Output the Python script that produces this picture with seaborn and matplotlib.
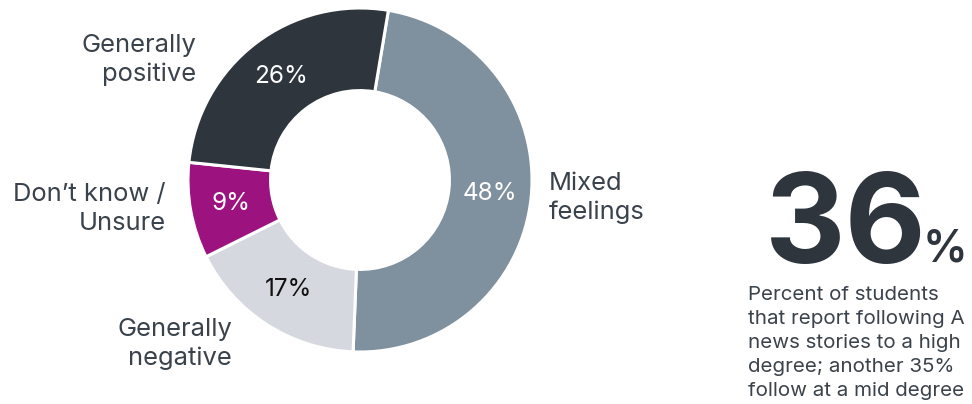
import matplotlib
matplotlib.use("Agg")
import matplotlib.pyplot as plt
import seaborn as sns
import numpy as np

categories = ["Mixed feelings", "Generally negative", "Don\u2019t know / Unsure", "Generally positive"]
values = [48, 17, 9, 26]
pct_labels = ["48%", "17%", "9%", "26%"]
outer_labels = ["Mixed\nfeelings", "Generally\nnegative", "Don\u2019t know /\nUnsure", "Generally\npositive"]
big_number = "36"
big_suffix = "%"
note_lines = ["Percent of students", "that report following A", "news stories to a high",
              "degree; another 35%", "follow at a mid degree"]

sns.set_theme(style="white")
plt.rcParams['font.family'] = ['Inter', 'DejaVu Sans']

colors = ["#7f909e", "#d5d9df", "#9c1380", "#2e353d"]
pct_colors = ["white", "#111111", "white", "white"]
text_color = "#3a424b"

W, H = 972, 404
fig = plt.figure(figsize=(W / 100, H / 100), dpi=100)
fig.patch.set_facecolor("white")

cx, cy, R = 360, 180, 172
ax = fig.add_axes([(cx - R) / W, (H - cy - R) / H, 2 * R / W, 2 * R / H])
wedges, _ = ax.pie(values, colors=colors, startangle=80.5, counterclock=False,
                   radius=1.0, wedgeprops=dict(width=0.48, edgecolor="white", linewidth=2.2))
ax.set_xlim(-1, 1)
ax.set_ylim(-1, 1)
ax.set_aspect("equal")
ax.axis("off")

for w, lab, c in zip(wedges, pct_labels, pct_colors):
    ang = np.deg2rad((w.theta1 + w.theta2) / 2)
    r = 0.76
    ax.text(r * np.cos(ang), r * np.sin(ang), lab, ha="center", va="center",
            fontsize=17.5, color=c)

def px(x, y):
    return x / W, 1 - y / H

pos = {
    0: (549, 198, "left"),
    1: (232, 344, "right"),
    2: (166, 209, "right"),
    3: (196, 60, "right"),
}
for i, lab in enumerate(outer_labels):
    x, y, ha = pos[i]
    fig.text(*px(x, y), lab, ha=ha, va="center", fontsize=18.4,
             color=text_color, linespacing=1.33, multialignment=ha)

fig.text(*px(765, 263), big_number, ha="left", va="baseline", fontsize=90,
         fontweight="bold", color="#2e353d")
fig.text(*px(923, 261), big_suffix, ha="left", va="baseline", fontsize=32,
         fontweight="semibold", color="#2e353d")

for i, line in enumerate(note_lines):
    fig.text(*px(748, 300 + i * 24), line, ha="left", va="baseline", fontsize=14.8,
             color=text_color)

fig.savefig("out.png", dpi=100, facecolor="white")
